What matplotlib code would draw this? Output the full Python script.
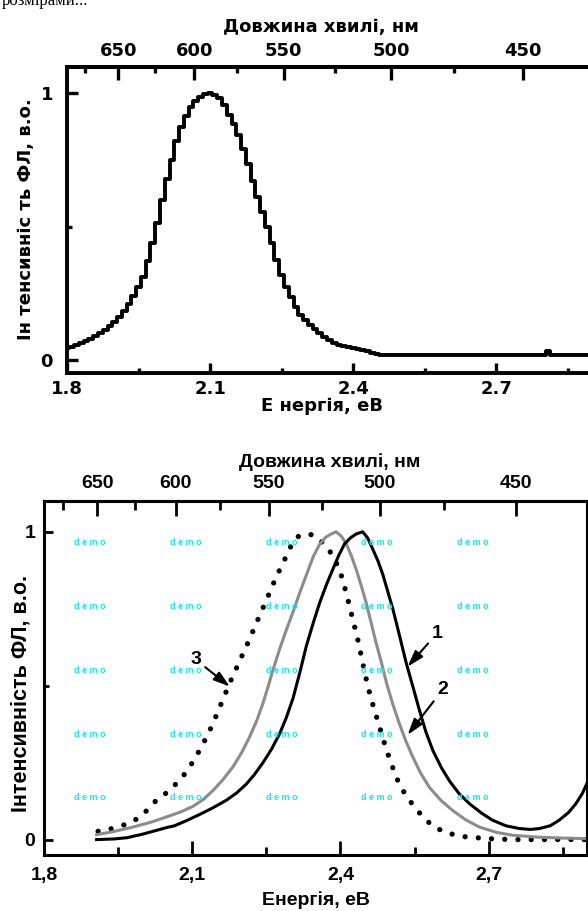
import numpy as np
import matplotlib.pyplot as plt

# top panel: single PL spectrum (stepped)
top_energy = [1.80, 1.81, 1.82, 1.83, 1.84, 1.85, 1.86, 1.87, 1.88, 1.89,
              1.90, 1.91, 1.92, 1.93, 1.94, 1.95, 1.96, 1.97, 1.98, 1.99,
              2.00, 2.01, 2.02, 2.03, 2.04, 2.05, 2.06, 2.07, 2.08, 2.09,
              2.10, 2.11, 2.12, 2.13, 2.14, 2.15, 2.16, 2.17, 2.18, 2.19,
              2.20, 2.21, 2.22, 2.23, 2.24, 2.25, 2.26, 2.27, 2.28, 2.29,
              2.30, 2.31, 2.32, 2.33, 2.34, 2.35, 2.36, 2.37, 2.38, 2.39,
              2.40, 2.41, 2.42, 2.43, 2.44, 2.45, 2.46, 2.60, 2.80, 2.808,
              2.816, 2.900]
top_pl = [0.045, 0.050, 0.055, 0.065, 0.072, 0.080, 0.090, 0.100, 0.112, 0.126,
          0.143, 0.163, 0.185, 0.210, 0.240, 0.272, 0.310, 0.370, 0.440, 0.515,
          0.600, 0.680, 0.750, 0.820, 0.875, 0.915, 0.948, 0.970, 0.988, 0.998,
          1.000, 0.995, 0.982, 0.955, 0.920, 0.885, 0.845, 0.790, 0.735, 0.670,
          0.610, 0.555, 0.500, 0.440, 0.375, 0.320, 0.275, 0.235, 0.200, 0.170,
          0.150, 0.132, 0.115, 0.100, 0.087, 0.075, 0.064, 0.057, 0.052, 0.048,
          0.046, 0.043, 0.038, 0.032, 0.027, 0.023, 0.020, 0.020, 0.020, 0.032,
          0.020, 0.020]

# bottom panel: three PL spectra
e1 = [1.906, 1.940, 1.967, 2.000, 2.027, 2.050, 2.064, 2.090, 2.115, 2.140,
      2.169, 2.190, 2.209, 2.225, 2.243, 2.260, 2.277, 2.290, 2.304, 2.318,
      2.331, 2.345, 2.358, 2.372, 2.385, 2.397, 2.408, 2.420, 2.432, 2.445,
      2.455, 2.465, 2.476, 2.486, 2.496, 2.506, 2.520, 2.533, 2.547, 2.560,
      2.573, 2.587, 2.604, 2.621, 2.640, 2.661, 2.685, 2.708, 2.735, 2.762,
      2.785, 2.803, 2.825, 2.843, 2.862, 2.877, 2.890, 2.900]
pl1 = [0.000, 0.002, 0.006, 0.018, 0.030, 0.040, 0.045, 0.063, 0.082, 0.102,
       0.128, 0.152, 0.180, 0.210, 0.250, 0.293, 0.345, 0.395, 0.460, 0.545,
       0.630, 0.705, 0.770, 0.830, 0.880, 0.925, 0.960, 0.980, 0.993, 1.000,
       0.980, 0.945, 0.905, 0.860, 0.805, 0.750, 0.660, 0.575, 0.495, 0.420,
       0.350, 0.290, 0.235, 0.190, 0.150, 0.117, 0.087, 0.063, 0.045, 0.036,
       0.033, 0.036, 0.045, 0.063, 0.088, 0.117, 0.150, 0.185]

e2 = [1.906, 1.940, 1.980, 2.015, 2.048, 2.075, 2.101, 2.122, 2.142, 2.162,
      2.182, 2.200, 2.216, 2.230, 2.243, 2.253, 2.263, 2.277, 2.290, 2.304,
      2.317, 2.331, 2.345, 2.358, 2.370, 2.380, 2.391, 2.402, 2.412, 2.422,
      2.432, 2.442, 2.452, 2.462, 2.472, 2.483, 2.493, 2.506, 2.519, 2.532,
      2.546, 2.562, 2.580, 2.603, 2.627, 2.653, 2.681, 2.715, 2.749, 2.800,
      2.850, 2.900]
pl2 = [0.016, 0.026, 0.041, 0.056, 0.074, 0.089, 0.108, 0.130, 0.160, 0.195,
       0.236, 0.283, 0.334, 0.385, 0.443, 0.495, 0.550, 0.620, 0.680, 0.740,
       0.800, 0.860, 0.920, 0.960, 0.982, 0.992, 1.000, 0.985, 0.960, 0.922,
       0.877, 0.825, 0.770, 0.705, 0.640, 0.575, 0.510, 0.440, 0.378, 0.322,
       0.270, 0.217, 0.170, 0.128, 0.095, 0.065, 0.041, 0.024, 0.014, 0.008,
       0.005, 0.003]

e3 = [1.909, 1.935, 1.960, 1.978, 1.994, 2.010, 2.027, 2.040, 2.054, 2.071,
      2.088, 2.103, 2.118, 2.132, 2.145, 2.160, 2.176, 2.190, 2.203, 2.215,
      2.226, 2.240, 2.253, 2.265, 2.277, 2.290, 2.300, 2.310, 2.320, 2.333,
      2.344, 2.354, 2.364, 2.375, 2.385, 2.398, 2.406, 2.415, 2.425, 2.435,
      2.445, 2.455, 2.467, 2.479, 2.489, 2.499, 2.509, 2.519, 2.534, 2.550,
      2.570, 2.590, 2.615, 2.647, 2.700, 2.749, 2.900]
pl3 = [0.027, 0.035, 0.047, 0.058, 0.074, 0.098, 0.128, 0.143, 0.160, 0.188,
       0.220, 0.258, 0.300, 0.343, 0.390, 0.448, 0.510, 0.560, 0.606, 0.648,
       0.690, 0.742, 0.790, 0.835, 0.877, 0.920, 0.955, 0.980, 0.990, 0.992,
       0.990, 0.980, 0.964, 0.945, 0.920, 0.877, 0.835, 0.780, 0.715, 0.650,
       0.575, 0.500, 0.430, 0.367, 0.313, 0.264, 0.220, 0.180, 0.140, 0.106,
       0.068, 0.041, 0.022, 0.010, 0.003, 0.000, 0.000]

x_major = [1.8, 2.1, 2.4, 2.7]
x_minor = [1.95, 2.25, 2.55, 2.85]
top_labels = ['1.8', '2.1', '2.4', '2.7']
bot_labels = ['1,8', '2,1', '2,4', '2,7']
wl_major = [650, 600, 550, 500, 450]
wl_minor = [675, 625, 575, 525, 475]

W, H = 588, 911
fig = plt.figure(figsize=(W / 100, H / 100), dpi=100)


def box(l, t, r, b):
    return [l / W, 1 - b / H, (r - l) / W, (b - t) / H]


def nm(e):
    return 1240.0 / np.asarray(e, dtype=float)


fig.text(2 / W, 1 - 5 / H, 'розмірами...', family='Liberation Serif', fontsize=12,
         va='baseline', ha='left')

# ---------- top panel ----------
dj = dict(family='DejaVu Sans', weight='bold')
ax1 = fig.add_axes(box(67, 66.7, 591.7, 373.3))
ax1.plot(top_energy, top_pl, color='k', lw=2.8, drawstyle='steps-mid')
ax1.set_xlim(1.8, 2.9)
ax1.set_ylim(-0.05, 1.1)
for s in ax1.spines.values():
    s.set_linewidth(2.8)
ax1.set_xticks(x_major)
ax1.set_xticklabels(top_labels, fontsize=13, **dj)
ax1.set_xticks(x_minor, minor=True)
ax1.set_yticks([0, 1])
ax1.set_yticklabels(['0', '1'], fontsize=13, **dj)
ax1.set_yticks([0.5], minor=True)
ax1.tick_params(which='major', direction='in', width=2.4, length=7)
ax1.tick_params(which='minor', direction='in', width=2.4, length=3.5)
ax1.tick_params(axis='x', which='major', pad=5)
ax1.tick_params(axis='y', which='major', length=8, pad=10)
sec1 = ax1.secondary_xaxis('top', functions=(nm, nm))
sec1.set_xticks(wl_major)
sec1.set_xticklabels([str(w) for w in wl_major], fontsize=13, **dj)
sec1.set_xticks(wl_minor, minor=True)
sec1.spines['top'].set_linewidth(2.8)
sec1.tick_params(which='major', direction='in', width=2.4, length=9, pad=5)
sec1.tick_params(which='minor', direction='in', width=2.4, length=4)
fig.text(321 / W, 1 - 27 / H, 'Довжина хвилі, нм', fontsize=13, ha='center', va='center', **dj)
fig.text(322 / W, 1 - 406 / H, 'Е нергія, еВ', fontsize=13, ha='center', va='center', **dj)
fig.text(26 / W, 1 - 219 / H, 'Ін тенсивніс ть ФЛ, в.о.', fontsize=13, rotation=90,
         ha='center', va='center', **dj)

# ---------- bottom panel ----------
lb = dict(family='Liberation Sans', weight='bold')
ax2 = fig.add_axes(box(44.3, 501, 587.3, 855))
ax2.plot(e3, pl3, color='k', lw=3.8, linestyle=(0, (0.01, 2.5)), dash_capstyle='round')
ax2.plot(e2, pl2, color='#8c8c8c', lw=2.2)
ax2.plot(e1, pl1, color='k', lw=2.2)
ax2.set_xlim(1.8, 2.9)
ax2.set_ylim(-0.05, 1.1)
for s in ax2.spines.values():
    s.set_linewidth(2.2)
ax2.set_xticks(x_major)
ax2.set_xticklabels(bot_labels, fontsize=14, **lb)
ax2.set_xticks(x_minor, minor=True)
ax2.set_yticks([0, 1])
ax2.set_yticklabels(['0', '1'], fontsize=14, **lb)
ax2.set_yticks([0.5], minor=True)
ax2.tick_params(axis='x', which='major', direction='in', width=2, length=10, pad=8.5)
ax2.tick_params(axis='x', which='minor', direction='in', width=2, length=6)
ax2.tick_params(axis='y', which='major', direction='in', width=2, length=6.5, pad=6.5)
ax2.tick_params(axis='y', which='minor', direction='in', width=2, length=3.5)
sec2 = ax2.secondary_xaxis('top', functions=(nm, nm))
sec2.set_xticks(wl_major)
sec2.set_xticklabels([str(w) for w in wl_major], fontsize=14, **lb)
sec2.set_xticks(wl_minor, minor=True)
sec2.spines['top'].set_linewidth(2.2)
sec2.tick_params(which='major', direction='in', width=2, length=11, pad=6.5)
sec2.tick_params(which='minor', direction='in', width=2, length=6.5)

# watermark
for xf in [0.084, 0.26, 0.437, 0.612, 0.789]:
    for yf in [0.882, 0.702, 0.521, 0.34, 0.163]:
        ax2.text(xf, yf, 'd e m o', transform=ax2.transAxes, fontsize=6.5,
                 color='#18e4f4', ha='center', va='center', **lb)

arrow = dict(arrowstyle='-|>,head_length=0.7,head_width=0.22', color='k', lw=1.5,
             shrinkA=1, shrinkB=0)
ax2.annotate('1', xy=(2.536, 0.562), xytext=(2.596, 0.671), fontsize=14,
             ha='center', va='center', arrowprops=arrow, **lb)
ax2.annotate('2', xy=(2.536, 0.340), xytext=(2.607, 0.487), fontsize=14,
             ha='center', va='center', arrowprops=arrow, **lb)
ax2.annotate('3', xy=(2.176, 0.497), xytext=(2.107, 0.584), fontsize=14,
             ha='center', va='center', arrowprops=arrow, **lb)

fig.text(316 / W, 1 - 900 / H, 'Енергія, еВ', fontsize=14, ha='center', va='center', **lb)
fig.text(330 / W, 1 - 462 / H, 'Довжина хвилі, нм', fontsize=14, ha='center', va='center', **lb)
fig.text(21 / W, 1 - 693 / H, 'Інтенсивність ФЛ, в.о.', fontsize=15.5, rotation=90,
         ha='center', va='center', **lb)

fig.savefig('out.png', dpi=100)
